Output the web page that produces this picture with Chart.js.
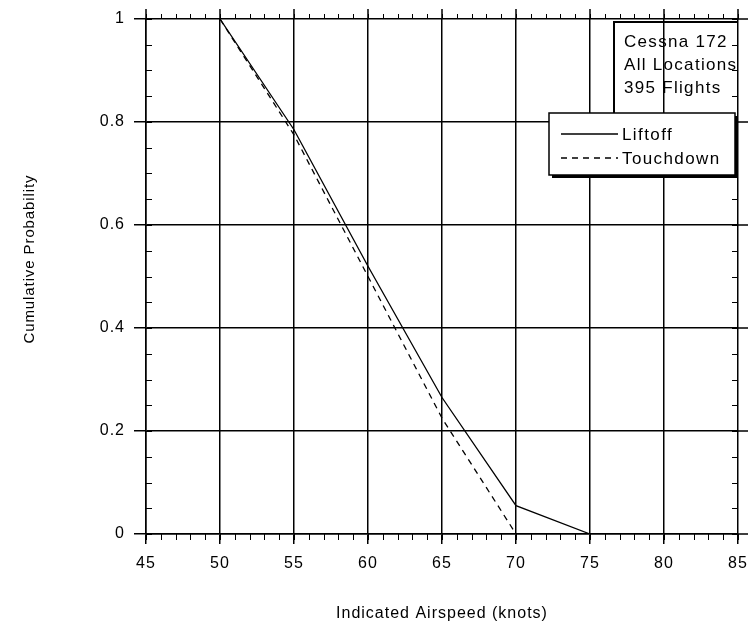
<!DOCTYPE html>
<html>
<head>
<meta charset="utf-8">
<script src="https://cdn.jsdelivr.net/npm/chart.js@4.4.1/dist/chart.umd.min.js"></script>
<style>
  html, body { margin: 0; padding: 0; background: #fff; }
</style>
</head>
<body>
<canvas id="myChart" width="749" height="627"></canvas>
<script>
// valores
const liftoffSpeed = [50, 55, 60, 65, 70, 75];
const liftoffProb = [1, 0.785, 0.52, 0.265, 0.055, 0];
const touchdownSpeed = [50, 55, 60, 65, 70];
const touchdownProb = [1, 0.775, 0.5, 0.225, 0];
const xTicks = [45, 50, 55, 60, 65, 70, 75, 80, 85];
const yTicks = [0, 0.2, 0.4, 0.6, 0.8, 1];
const noteLines = ['Cessna 172', 'All Locations', '395 Flights'];
const xTitle = 'Indicated Airspeed (knots)';
const yTitle = 'Cumulative Probability';

const FONT = '"Liberation Sans", Arial, Helvetica, sans-serif';

const toPoints = (xs, ys) => xs.map((v, i) => ({ x: v, y: ys[i] }));

// marco: ticks menores, leyenda, nota y título del eje y
const framePlugin = {
    id: 'frame',
    beforeDraw(chart) {
        chart.ctx.letterSpacing = '1px';
    },
    afterDraw(chart) {
        const ctx = chart.ctx;
        const xs = chart.scales.x;
        const ys = chart.scales.y;
        const a = chart.chartArea;
        ctx.save();
        ctx.strokeStyle = '#000';
        ctx.lineWidth = 1;
        ctx.beginPath();
        // ticks menores en x (cada nudo), hacia afuera
        for (let v = xTicks[0]; v <= xTicks[xTicks.length - 1]; v++) {
            const px = Math.round(xs.getPixelForValue(v)) + 0.5;
            ctx.moveTo(px, a.bottom); ctx.lineTo(px, a.bottom + 6);
            ctx.moveTo(px, a.top); ctx.lineTo(px, a.top - 5);
        }
        // ticks menores en y (cada 0.05), hacia adentro
        for (let k = 0; k <= 20; k++) {
            const py = Math.round(ys.getPixelForValue(k * 0.05)) + 0.5;
            ctx.moveTo(a.left, py); ctx.lineTo(a.left + 6, py);
            ctx.moveTo(a.right, py); ctx.lineTo(a.right - 6, py);
        }
        ctx.stroke();
        // ticks mayores arriba y a la derecha
        ctx.lineWidth = 1.5;
        ctx.beginPath();
        xTicks.forEach(v => {
            const px = xs.getPixelForValue(v);
            ctx.moveTo(px, a.top); ctx.lineTo(px, a.top - 10);
        });
        yTicks.forEach(v => {
            const py = ys.getPixelForValue(v);
            ctx.moveTo(a.right, py); ctx.lineTo(a.right + 10, py);
        });
        ctx.stroke();

        // caja de nota
        const nl = a.right - 124, nt = a.top + 3;
        ctx.lineWidth = 2;
        ctx.beginPath();
        ctx.moveTo(nl, 113); ctx.lineTo(nl, nt); ctx.lineTo(a.right, nt);
        ctx.stroke();
        ctx.fillStyle = '#000';
        ctx.font = '17px ' + FONT;
        ctx.letterSpacing = '1.3px';
        ctx.textBaseline = 'alphabetic';
        ctx.textAlign = 'left';
        noteLines.forEach((t, i) => ctx.fillText(t, nl + 10, 47 + i * 23));

        // leyenda con sombra
        const lx = a.right - 189, ly = 113, lw = 186, lh = 62;
        ctx.fillStyle = '#000';
        ctx.fillRect(lx + 3, ly + 3, lw, lh);
        ctx.fillStyle = '#fff';
        ctx.fillRect(lx, ly, lw, lh);
        ctx.lineWidth = 1.5;
        ctx.strokeRect(lx, ly, lw, lh);
        ctx.font = '17px ' + FONT;
        ctx.letterSpacing = '1.4px';
        ctx.textBaseline = 'middle';
        chart.data.datasets.forEach((ds, i) => {
            const yy = ly + 21 + i * 24;
            ctx.strokeStyle = ds.borderColor;
            ctx.lineWidth = 1.3;
            ctx.setLineDash(ds.borderDash || []);
            ctx.beginPath();
            ctx.moveTo(lx + 12, yy); ctx.lineTo(lx + 69, yy);
            ctx.stroke();
            ctx.setLineDash([]);
            ctx.fillStyle = '#000';
            ctx.fillText(ds.label, lx + 73, yy + 1);
        });

        // título eje y
        ctx.translate(30, 259);
        ctx.rotate(-Math.PI / 2);
        ctx.font = '15px ' + FONT;
        ctx.letterSpacing = '0.9px';
        ctx.textAlign = 'center';
        ctx.textBaseline = 'middle';
        ctx.fillText(yTitle, 0, 0);
        ctx.restore();
    }
};

const ctx = document.getElementById('myChart').getContext('2d');
const myChart = new Chart(ctx, {
    type: 'line',
    data: {
        datasets: [{
            label: 'Liftoff',
            data: toPoints(liftoffSpeed, liftoffProb),
            borderColor: '#000',
            borderWidth: 1.3,
            pointRadius: 0,
            tension: 0
        }, {
            label: 'Touchdown',
            data: toPoints(touchdownSpeed, touchdownProb),
            borderColor: '#000',
            borderWidth: 1.3,
            borderDash: [6, 5],
            pointRadius: 0,
            tension: 0
        }]
    },
    options: {
        responsive: false,
        animation: false,
        layout: { padding: { top: 19, right: 11, left: 0, bottom: 0 } },
        plugins: {
            legend: { display: false },
            tooltip: { enabled: false }
        },
        scales: {
            x: {
                type: 'linear',
                min: 45,
                max: 85,
                afterBuildTicks: s => { s.ticks = xTicks.map(v => ({ value: v })); },
                afterFit: s => { s.height = 93; s.paddingRight = 0; },
                grid: { color: '#000', lineWidth: 1.5, tickLength: 10 },
                border: { color: '#000', width: 1.5 },
                ticks: {
                    color: '#000',
                    font: { family: FONT, size: 16 },
                    padding: 10,
                    maxRotation: 0
                },
                title: {
                    display: true,
                    text: xTitle,
                    color: '#000',
                    font: { family: FONT, size: 16 },
                    padding: { top: 0, bottom: 4 }
                }
            },
            y: {
                min: 0,
                max: 1,
                afterBuildTicks: s => { s.ticks = yTicks.map(v => ({ value: v })); },
                afterFit: s => { s.width = 146; },
                grid: { color: '#000', lineWidth: 1.5, tickLength: 12 },
                border: { color: '#000', width: 1.5 },
                ticks: {
                    color: '#000',
                    font: { family: FONT, size: 16 },
                    padding: 9,
                    callback: v => String(v)
                }
            }
        }
    },
    plugins: [framePlugin]
});
</script>
</body>
</html>
